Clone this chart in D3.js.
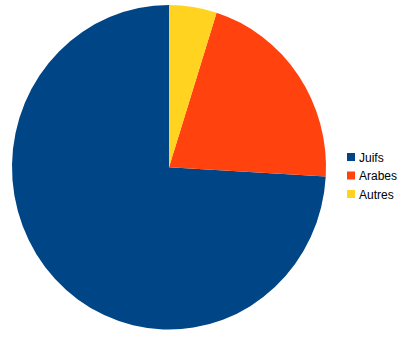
<!DOCTYPE html>
<html>
<head>
<meta charset="utf-8">
<script src="https://cdn.jsdelivr.net/npm/d3@7"></script>
<style>
  body { margin: 0; background: #fff; }
  svg { display: block; }
</style>
</head>
<body>
<script>
const categories = ["Juifs", "Arabes", "Autres"]
const values = [74.1, 21.0, 4.9]
const colors = ["#004586", "#ff420e", "#ffd320"]

const width = 415, height = 337
const cx = 169, cy = 167.3
const rx = 157, ry = 162.3

const svg = d3.select("body").append("svg")
  .attr("width", width)
  .attr("height", height)

// pie goes counterclockwise from 12 o'clock, like the original
const pie = d3.pie().sort(null).startAngle(0).endAngle(-2 * Math.PI)
const arc = d3.arc().innerRadius(0).outerRadius(rx)

const g = svg.append("g")
  .attr("transform", `translate(${cx},${cy}) scale(1,${ry / rx})`)

g.selectAll("path")
  .data(pie(values))
  .enter()
  .append("path")
  .attr("d", arc)
  .attr("fill", (d, i) => colors[i])

const color = d3.scaleOrdinal().domain(categories).range(colors)
const y = d3.scalePoint().domain(categories).range([157, 194])

const legend = svg.append("g")
const items = legend.selectAll("g")
  .data(categories)
  .enter()
  .append("g")
  .attr("transform", d => `translate(347,${y(d)})`)

items.append("rect")
  .attr("x", 0)
  .attr("y", -4)
  .attr("width", 8)
  .attr("height", 8)
  .attr("fill", d => color(d))

items.append("text")
  .attr("x", 12)
  .attr("y", 4.5)
  .style("font-family", "'Liberation Sans', Arial, sans-serif")
  .style("font-size", "12px")
  .attr("fill", "#000")
  .text(d => d)
</script>
</body>
</html>
